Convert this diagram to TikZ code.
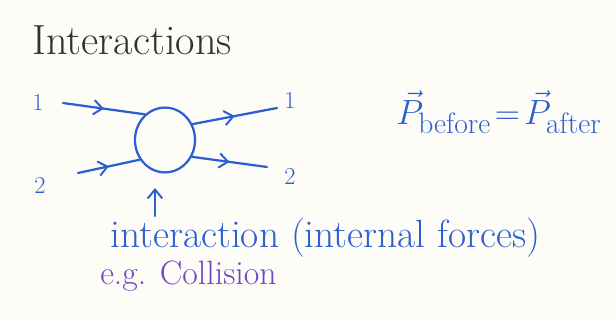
\documentclass[tikz,border=0pt]{standalone}
\usepackage{amsmath,amssymb}
\usepackage{tikz}
\usetikzlibrary{positioning,arrows.meta,calc,shapes.geometric,decorations.markings}
\definecolor{ixblue}{RGB}{45,95,210}
\definecolor{ixpurple}{RGB}{105,75,195}
\definecolor{ixgrey}{RGB}{50,50,50}
\definecolor{ixpaper}{RGB}{253,252,246}
\tikzset{
  ixball/.style={ellipse, draw=ixblue, line width=1.6pt, minimum width=1.5cm,
                 minimum height=1.62cm, inner sep=0pt},
  ixlab/.style={text=ixblue, font=\LARGE},
  ixline/.style={draw=ixblue, line width=1.6pt, line cap=round, postaction={decorate},
                 decoration={markings, mark=at position 0.5 with
                 {\arrow{Straight Barb[length=2.2mm,width=3.6mm,line width=1.4pt]}}}},
  ixup/.style={draw=ixblue, line width=1.6pt, line cap=round,
               -{Straight Barb[length=2.2mm,width=3.6mm,line width=1.4pt]}},
  ixtext/.style={text=ixblue, inner sep=0pt},
}
\newcommand{\ixBig}{\fontsize{30}{34}\selectfont}
\newcommand{\ixMid}{\fontsize{28}{32}\selectfont}
\newcommand{\ixSmall}{\fontsize{24}{28}\selectfont}

\begin{document}
\begin{tikzpicture}[x=0.025cm, y=-0.025cm]
  \fill[ixpaper] (0,0) rectangle (616,320);
  \useasboundingbox (0,0) rectangle (616,320);
  \node[text=ixgrey, inner sep=0pt, font=\ixBig] (title) at (132,40) {Interactions};
  % the interaction blob
  \node[ixball] (ball) at (165,140) {};
  \coordinate (in1) at (63,103);
  \coordinate (in2) at (78,173);
  \coordinate (out1) at (277,108);
  \coordinate (out2) at (267,167);
  \node[ixlab] (lin1) at (38,102) {1};
  \node[ixlab] (lin2) at (40,185) {2};
  \node[ixlab] (lout1) at (290,100) {1};
  \node[ixlab] (lout2) at (290,176) {2};
  \draw[ixline] (in1) -- (ball.128);
  \draw[ixline] (in2) -- (ball.218);
  \draw[ixline] (ball.30) -- (out1);
  \draw[ixline] (ball.-32) -- (out2);
  % pointer to the blob
  \coordinate (upfoot) at (155,216);
  \coordinate (uptip) at (155,188);
  \draw[ixup] (upfoot) -- (uptip);
  \node[ixtext, font=\ixMid, anchor=west] (itext) at (110,238) {interaction (internal forces)};
  \node[text=ixpurple, inner sep=0pt, font=\ixSmall, anchor=west] (eg) at (100,276) {e.g. Collision};
  % momentum conservation
  \node[ixtext, font=\ixBig, anchor=west] (cons) at (396,112)
    {$\vec{P}_{\text{before}}\!=\!\vec{P}_{\text{after}}$};
\end{tikzpicture}
\end{document}
